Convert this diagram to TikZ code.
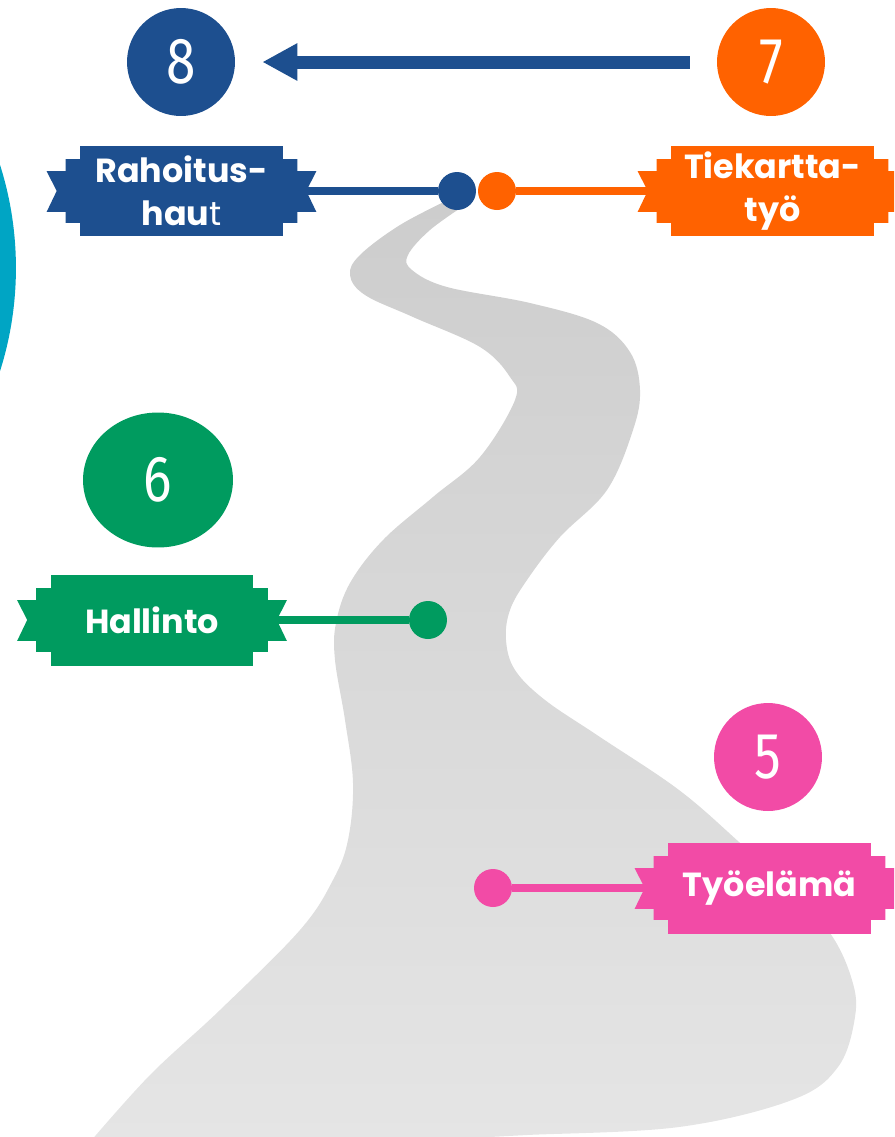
\documentclass[tikz,border=0pt]{standalone}
\usepackage{graphicx}
\usepackage{fontspec}
\setmainfont{Poppins}
\newfontfamily\numfont{Fira Sans}
\usetikzlibrary{calc,arrows.meta,positioning,shapes.geometric}

\definecolor{stepblue}{HTML}{1D4F8F}
\definecolor{steporange}{HTML}{FF6200}
\definecolor{stepgreen}{HTML}{009B5F}
\definecolor{steppink}{HTML}{F24BA6}
\definecolor{stepteal}{HTML}{00A5C4}
\definecolor{roadtop}{HTML}{CDCDCD}
\definecolor{roadbot}{HTML}{E5E5E5}

% narrow digit for the step circles
\newcommand\numlabel[1]{\scalebox{0.82}[1]{#1}}

% stepped ends of a ribbon node
\newcommand\ribbonends[2]{%
  \fill[#2] ($(#1.north west)+(1,14)$) -- ++(-15,0) -- ++(0,12) -- ++(-19,0)
    -- ($(#1.west)+(-23,0)$) -- ($(#1.south west)+(-33,-25)$) -- ++(19,0)
    -- ++(0,11) -- ++(15,0) -- cycle;
  \fill[#2] ($(#1.north east)+(-1,14)$) -- ++(15,0) -- ++(0,12) -- ++(19,0)
    -- ($(#1.east)+(23,0)$) -- ($(#1.south east)+(33,-25)$) -- ++(-19,0)
    -- ++(0,11) -- ++(-15,0) -- cycle;
}

\begin{document}
\begin{tikzpicture}[
    x=0.02cm, y=-0.02cm,
    num/.style={circle,fill=#1,minimum size=2.16cm,inner sep=0pt,text=white,
        font=\numfont\fontsize{37}{40}\selectfont},
    ribbon/.style={rectangle,fill=#1,minimum width=4.06cm,minimum height=1.82cm,
        inner sep=0pt,text=white,align=center,
        font=\bfseries\fontsize{19}{24.4}\selectfont},
    pin/.style={circle,fill=#1,minimum size=0.76cm,inner sep=0pt},
    link/.style={draw=#1,line width=0.15cm}
]
  \clip (0,0) rectangle (894,1137);

  \fill[stepteal] (-324,268) circle[radius=6.8cm];

  % road
  \shade[top color=roadtop,bottom color=roadbot]
    plot[smooth,tension=0.6] coordinates {
      (450,199) (400,225) (360,255) (350,275) (365,295) (413,317) (480,347)
      (510,377) (515,400) (480,457) (433,497) (383,540) (350,583) (336,623)
      (335,660) (345,720) (353,783) (348,840) (333,880) (300,930) (220,1010)
      (150,1075) (90,1142)}
    -- (480,1142)
    -- plot[smooth,tension=0.6] coordinates {
      (490,1137) (527,1135) (679,1127) (792,1100) (838,1067) (855,1017)
      (852,980) (830,933) (785,885) (739,842) (679,790) (600,737) (545,700)
      (515,670) (506,640) (510,610) (527,580) (560,537) (607,490) (633,430)
      (640,390) (630,352) (597,323) (530,303) (447,287) (412,270) (408,255)
      (430,230) (465,205)}
    -- cycle;

  \node[num=stepblue] (num8) at (181,62) {\numlabel{8}};
  \node[num=steporange] (num7) at (771,62) {\numlabel{7}};
  \node[num=stepgreen,ellipse,minimum width=3cm,minimum height=2.7cm] (num6) at (158,480) {\numlabel{6}};
  \node[num=steppink] (num5) at (768,757) {\numlabel{5}};

  \draw[link=stepblue,line width=0.26cm,-{Triangle[length=0.7cm,width=0.7cm]},
    shorten <=0.54cm,shorten >=0.54cm] (num7) -- (num8);

  \node[ribbon=stepblue] (rahoitus) at (181.5,191) {Rahoitus-\\hau{\mdseries t}};
  \node[ribbon=steporange] (tiekartta) at (772.5,191) {Tiekartta-\\työ};
  \node[ribbon=stepgreen] (hallinto) at (152,620) {Hallinto};
  \node[ribbon=steppink] (tyoelama) at (769.5,888) {Työelämä};

  \node[pin=stepblue] (rahoitus_pt) at (457,191) {};
  \node[pin=steporange] (tiekartta_pt) at (497,191) {};
  \node[pin=stepgreen] (hallinto_pt) at (428,620) {};
  \node[pin=steppink] (tyoelama_pt) at (493,888) {};

  \draw[link=stepblue] (rahoitus.east) -- (rahoitus_pt);
  \draw[link=steporange] (tiekartta_pt) -- (tiekartta.west);
  \draw[link=stepgreen] (hallinto.east) -- (hallinto_pt);
  \draw[link=steppink] (tyoelama_pt) -- (tyoelama.west);

  \ribbonends{rahoitus}{stepblue}
  \ribbonends{tiekartta}{steporange}
  \ribbonends{hallinto}{stepgreen}
  \ribbonends{tyoelama}{steppink}
\end{tikzpicture}
\end{document}
